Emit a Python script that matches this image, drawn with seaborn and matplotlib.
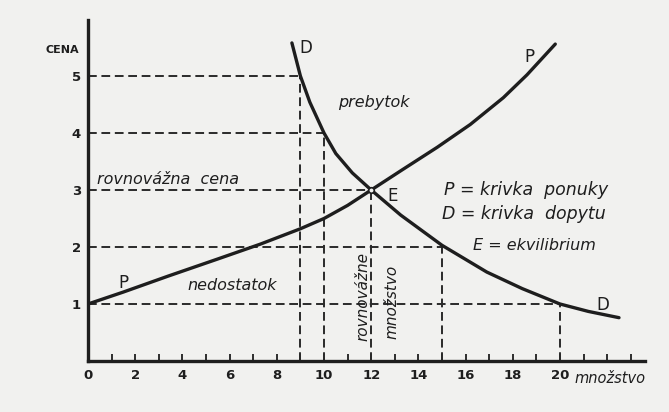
import matplotlib
matplotlib.use("Agg")
import matplotlib.pyplot as plt
import seaborn as sns
import pandas as pd
from matplotlib.ticker import MultipleLocator

# ---- data ----
supply_q = [0, 1.5, 3.4, 5.5, 7.3, 9.0, 10.0, 11.0, 12.0, 13.3, 14.8, 16.2, 17.6, 18.6, 19.8]
supply_p = [1.0, 1.21, 1.49, 1.79, 2.05, 2.32, 2.5, 2.73, 3.0, 3.35, 3.75, 4.15, 4.62, 5.02, 5.56]

demand_q = [8.64, 9.0, 9.4, 10.0, 10.5, 11.2, 12.0, 13.25, 15.0, 16.9, 18.4, 20.0, 21.2, 22.5]
demand_p = [5.58, 5.0, 4.54, 4.0, 3.64, 3.3, 3.0, 2.56, 2.03, 1.56, 1.27, 1.0, 0.87, 0.76]

price_levels = [1, 2, 3, 4, 5]
qty_demanded = [20, 15, 12, 10, 9]

x_tick_labels = [0, 2, 4, 6, 8, 10, 12, 14, 16, 18, 20]
y_tick_labels = [1, 2, 3, 4, 5]

supply_df = pd.DataFrame({"q": supply_q, "p": supply_p})
demand_df = pd.DataFrame({"q": demand_q, "p": demand_p})

sns.set_style("white")
plt.rcParams["font.family"] = ["DejaVu Sans"]

bg = "#f1f1ef"
ink = "#1e1e1e"

fig = plt.figure(figsize=(6.69, 4.12), dpi=100, facecolor=bg)
ax = fig.add_axes([88 / 669, 1 - 361 / 412, (645 - 88) / 669, (361 - 20) / 412])
ax.set_facecolor(bg)
ax.set_xlim(0, (645 - 88) / 23.6)
ax.set_ylim(0, (361 - 20) / 57)

# dashed guide lines
dash = dict(color="#2a2a2a", lw=1.4, linestyle=(0, (4.5, 2.4)), zorder=1)
for p, q in zip(price_levels, qty_demanded):
    ax.plot([0, q], [p, p], **dash)
    ax.plot([q, q], [0, p], **dash)

# curves
sns.lineplot(data=supply_df, x="q", y="p", ax=ax, color=ink, lw=2.4,
             sort=False, estimator=None, zorder=3)
sns.lineplot(data=demand_df, x="q", y="p", ax=ax, color=ink, lw=2.4,
             sort=False, estimator=None, zorder=3)
ax.plot([12], [3], marker="o", ms=4, mfc=bg, mec=ink, mew=1.2, zorder=4)

# axes styling
for s in ["top", "right"]:
    ax.spines[s].set_visible(False)
for s in ["left", "bottom"]:
    ax.spines[s].set_linewidth(2.4)
    ax.spines[s].set_color(ink)

ax.set_xticks(x_tick_labels)
ax.set_xticklabels([str(v) for v in x_tick_labels], fontsize=9.5,
                   fontweight="bold", color=ink)
ax.xaxis.set_minor_locator(MultipleLocator(1))
ax.tick_params(axis="x", which="both", direction="in", length=5, width=1.3,
               color=ink, pad=6, bottom=True)
ax.set_yticks(y_tick_labels)
ax.set_yticklabels([str(v) for v in y_tick_labels], fontsize=9.5,
                   fontweight="bold", color=ink)
ax.tick_params(axis="y", length=0, pad=5)
ax.set_xlabel("")
ax.set_ylabel("")

it = dict(style="italic", color=ink, fontsize=11.5)
ax.text(-1.1, 5.46, "CENA", fontsize=8, fontweight="bold", color=ink,
        ha="center", va="center", clip_on=False)
ax.text(20.6, -0.3, "množstvo", ha="left", va="center", clip_on=False,
        style="italic", color=ink, fontsize=10.5)
ax.text(10.6, 4.53, "prebytok", ha="left", va="center", **it)
ax.text(0.4, 3.19, "rovnovážna  cena", ha="left", va="center", **it)
ax.text(4.2, 1.33, "nedostatok", ha="left", va="center", **it)
ax.text(11.65, 1.14, "rovnovážne", rotation=90, ha="center", va="center",
        fontsize=11, style="italic", color=ink)
ax.text(12.9, 1.03, "množstvo", rotation=90, ha="center", va="center",
        fontsize=11, style="italic", color=ink)
ax.text(15.1, 3.0, "P = krivka  ponuky", ha="left", va="center",
        style="italic", color=ink, fontsize=12.5)
ax.text(15.0, 2.58, "D = krivka  dopytu", ha="left", va="center",
        style="italic", color=ink, fontsize=12.5)
ax.text(16.3, 2.03, "E = ekvilibrium", ha="left", va="center", **it)

lab = dict(color=ink, fontsize=12, ha="center", va="center")
ax.text(1.5, 1.36, "P", **lab)
ax.text(9.25, 5.5, "D", **lab)
ax.text(18.7, 5.33, "P", **lab)
ax.text(12.9, 2.9, "E", **lab)
ax.text(21.8, 0.98, "D", **lab)

fig.savefig("out.png", dpi=100, facecolor=bg)
